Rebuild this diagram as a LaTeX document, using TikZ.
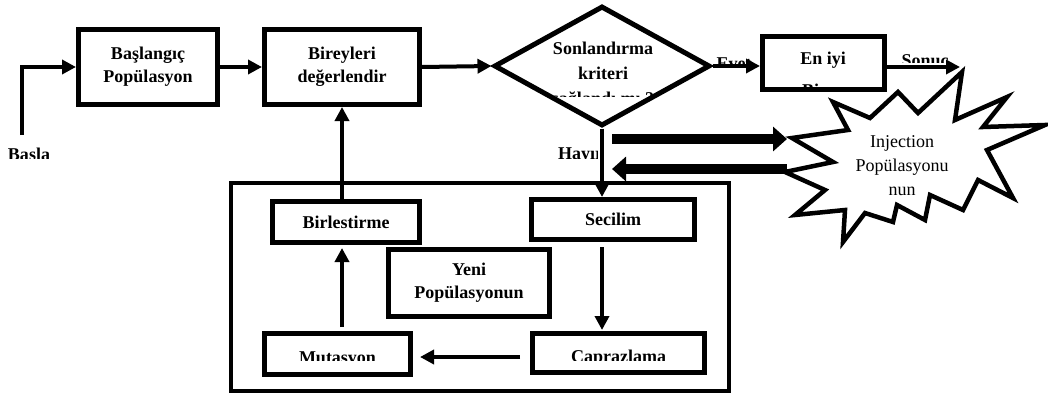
\documentclass[tikz,border=0pt]{standalone}
\usepackage{fontspec}
\setmainfont{Liberation Serif}
\usetikzlibrary{shapes.geometric,arrows.meta}

\begin{document}
\begin{tikzpicture}[x=1pt,y=-1pt,
        blok/.style={draw, line width=5pt, inner sep=0pt, align=center, font=\fontsize{18}{23}\selectfont\bfseries},
        yazi/.style={font=\fontsize{18}{23}\selectfont\bfseries, inner sep=0pt, anchor=base},
        ok/.style={line width=4pt, -{Triangle[length=14pt,width=14pt]}},
        kalin/.style={line width=10pt, -{Triangle[length=14pt,width=24pt]}}]
        \fill[white] (0,0) rectangle (1048,401);
        \useasboundingbox (0,0) rectangle (1048,401);

        % clipped labels first, boxes drawn over them
        \begin{scope}
            \clip (490,0) rectangle (713,97);
            \node[yazi] (son1) at (603,55) {Sonlandırma};
            \node[yazi] (son2) at (603,80) {kriteri};
            \node[yazi] (son3) at (603,105) {sağlandı mı ?};
        \end{scope}
        \begin{scope}
            \clip (700,40) rectangle (760,64);
            \node[yazi] (evet) at (734,70) {Evet};
        \end{scope}
        \begin{scope}
            \clip (890,40) rectangle (965,63);
            \node[yazi] (sonuct) at (925,67) {Sonuç};
        \end{scope}
        \node[yazi] (enyi1) at (823,65) {En iyi};
        \begin{scope}
            \clip (760,34) rectangle (887,89);
            \node[yazi] (enyi2) at (823,96) {Birey};
        \end{scope}
        \begin{scope}
            \clip (550,140) rectangle (597,158);
            \node[yazi, anchor=base west] (hayir) at (558,159) {Hayır};
        \end{scope}
        \begin{scope}
            \clip (0,140) rectangle (60,158);
            \node[yazi] (baslat) at (29,160) {Basla};
        \end{scope}
        \begin{scope}
            \clip (265,334) rectangle (410,360);
            \node[yazi] (mutt) at (337.5,363) {Mutasyon};
        \end{scope}
        \begin{scope}
            \clip (533,334) rectangle (704,360);
            \node[yazi] (caprt) at (618.5,362) {Caprazlama};
        \end{scope}

        \node[blok, minimum width=139pt, minimum height=75pt] (basl) at (148,67) {Başlangıç\\Popülasyon};
        \node[blok, minimum width=155pt, minimum height=75pt] (birey) at (342,67) {Bireyleri\\değerlendir};
        \node[draw, diamond, line width=5pt, minimum width=216pt, minimum height=120pt, inner sep=0pt] (dia) at (602,66) {};
        \node[blok, minimum width=122pt, minimum height=53pt] (enyi) at (823.5,63) {};
        \node[draw, line width=4.5pt, minimum width=498pt, minimum height=208pt] (dongu) at (480,287) {};
        \node[blok, minimum width=147pt, minimum height=41pt] (birl) at (346,222) {Birlestirme};
        \node[blok, minimum width=161pt, minimum height=67pt] (yeni) at (469,283) {Yeni\\Popülasyonun};
        \node[blok, minimum width=163pt, minimum height=40pt] (secil) at (613,219.5) {Secilim};
        \node[blok, minimum width=146pt, minimum height=41pt] (mut) at (337.5,354) {};
        \node[blok, minimum width=172pt, minimum height=39pt] (capr) at (618.5,353) {};

        \coordinate (basla) at (22,135);
        \coordinate (sonuc) at (960,67);
        \draw[ok] (basla) |- (basl.west);
        \draw[ok] (basl.east) -- (birey.west);
        \draw[ok] (birey.east) -- (dia.west);
        \draw[ok] (dia.east) -- (dia.east -| enyi.west);
        \draw[ok] (enyi.east |- sonuc) -- (sonuc);
        \draw[ok] (dia.south) -- (dia.south |- secil.north);
        \draw[ok] (birey.south |- birl.north) -- (birey.south);
        \draw[ok, shorten <=5pt, shorten >=1pt] (secil.south -| dia.south) -- (capr.north -| dia.south);
        \draw[ok, shorten <=10pt, shorten >=7pt] ([yshift=-4pt]capr.west) -- ([yshift=-4pt]capr.west -| mut.east);
        \draw[ok, shorten <=4pt, shorten >=3pt] (mut.north -| birey.south) -- (birl.south -| birey.south);

        \coordinate (injA) at (612,139);
        \coordinate (injB) at (787,139);
        \coordinate (injC) at (787,169);
        \coordinate (injD) at (612,169);
        \draw[kalin] (injA) -- (injB);
        \draw[kalin] (injC) -- (injD);

        % starburst
        \foreach \x/\y [count=\i] in {792/138,848/130,833/102,870/118,898/92,918/113,962/72,955/120,
                1007/97,983/127,1045/125,987/150,1013/198,978/180,963/210,930/195,925/220,
                897/205,893/222,865/213,843/242,845/210,795/215,825/190,785/172,833/162} {
            \coordinate (s\i) at (\x,\y);
        }
        \draw[line width=4.5pt, fill=white] (s1) \foreach \i in {2,...,26} {-- (s\i)} -- cycle;
        \node[font=\fontsize{18}{24}\selectfont, align=center, inner sep=0pt] (inj) at (902,166) {Injection\\Popülasyonu\\nun};
    \end{tikzpicture}
\end{document}
